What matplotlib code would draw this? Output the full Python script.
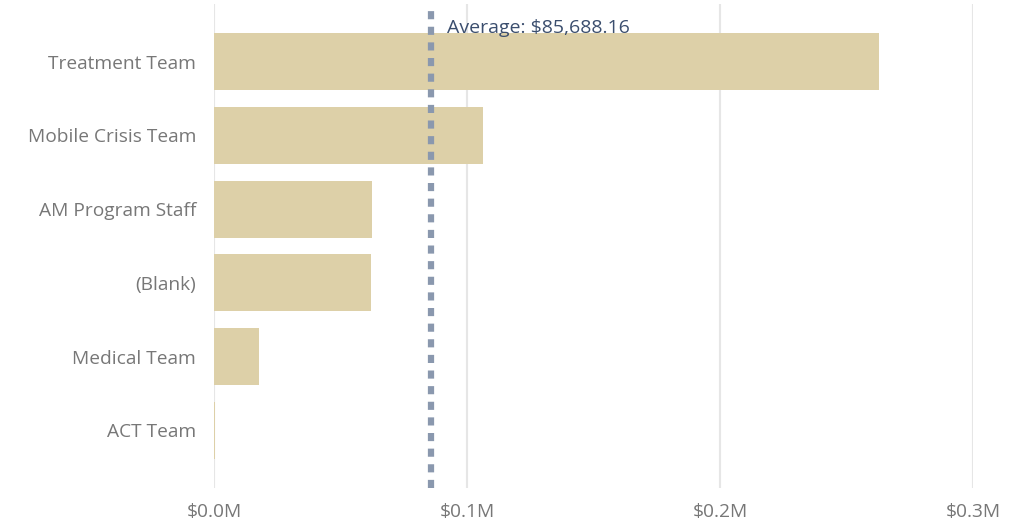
import matplotlib.pyplot as plt
from matplotlib.ticker import FuncFormatter

categories = ["Treatment Team", "Mobile Crisis Team", "AM Program Staff",
              "(Blank)", "Medical Team", "ACT Team"]
values = [263000, 106500, 62500, 62200, 17800, 500]
average = 85688.16
xticks = [0, 100000, 200000, 300000]

plt.rcParams["font.family"] = ["Open Sans", "DejaVu Sans"]

fig = plt.figure(figsize=(10.13, 5.27), dpi=100)
ax = fig.add_axes([214 / 1013, 1 - 488 / 527, (973 - 214) / 1013, (488 - 4) / 527])

ypos = list(range(len(categories)))
ax.barh(ypos, values, height=0.77, color="#DDD0A8", zorder=2)
ax.set_yticks(ypos)
ax.set_yticklabels(categories)
ax.set_ylim(len(categories) - 1 + 0.78, -0.78)

ax.set_xlim(0, 300000)
ax.set_xticks(xticks)
ax.xaxis.set_major_formatter(FuncFormatter(lambda v, p: f"${v / 1e6:.1f}M"))
ax.grid(axis="x", color="#E6E6E6", linewidth=1.5, zorder=0)

ax.axvline(average, color="#8A98AE", linewidth=4.5, linestyle=(0, (1.3, 1.2)), zorder=3)
ax.annotate(f"Average: ${average:,.2f}", xy=(average, 1), xycoords=("data", "axes fraction"),
            xytext=(12, -17), textcoords="offset points", va="center", ha="left",
            fontsize=14, color="#3B4E6E", zorder=4)

for s in ax.spines.values():
    s.set_visible(False)
ax.tick_params(axis="both", length=0, labelsize=13.8, labelcolor="#777777")
ax.tick_params(axis="y", pad=13)
ax.tick_params(axis="x", pad=11)

fig.savefig("out.png", dpi=100)
